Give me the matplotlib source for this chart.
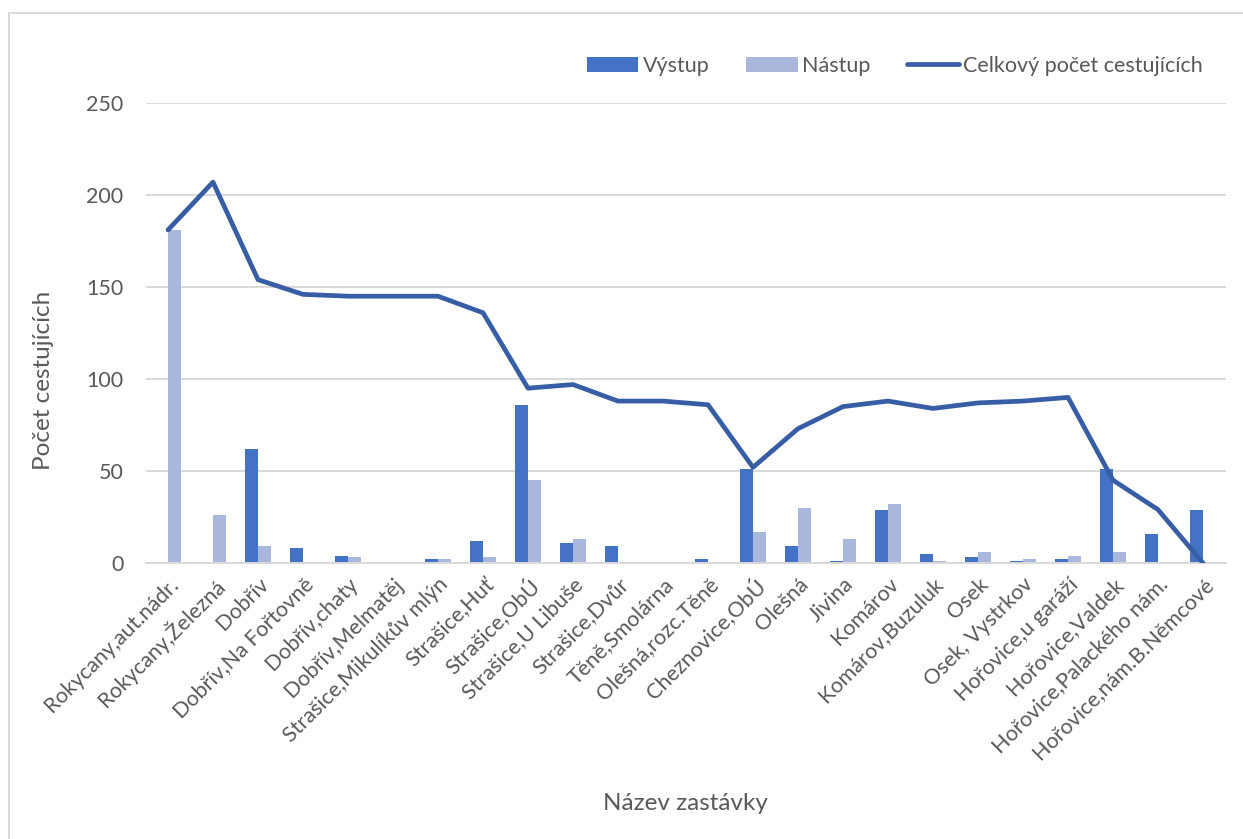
import numpy as np
import matplotlib
matplotlib.use("Agg")
import matplotlib.pyplot as plt
from matplotlib.patches import Rectangle

plt.rcParams['font.family'] = ['Lato', 'DejaVu Sans']

stops = [
    "Rokycany,aut.nádr.", "Rokycany,Železná", "Dobřív", "Dobřív,Na Fořtovně",
    "Dobřív,chaty", "Dobřív,Melmatěj", "Strašice,Mikulíkův mlýn", "Strašice,Huť",
    "Strašice,ObÚ", "Strašice,U Libuše", "Strašice,Dvůr", "Těně,Smolárna",
    "Olešná,rozc.Těně", "Cheznovice,ObÚ", "Olešná", "Jivina", "Komárov",
    "Komárov,Buzuluk", "Osek", "Osek, Vystrkov", "Hořovice,u garáží",
    "Hořovice,Valdek", "Hořovice,Palackého nám.", "Hořovice,nám.B.Němcové",
]
vystup = [0, 0, 62, 8, 4, 0, 2, 12, 86, 11, 9, 0, 2, 51, 9, 1, 29, 5, 3, 1, 2, 51, 16, 29]
nastup = [181, 26, 9, 0, 3, 0, 2, 3, 45, 13, 0, 0, 0, 17, 30, 13, 32, 1, 6, 2, 4, 6, 0, 0]
celkem = [181, 207, 154, 146, 145, 145, 145, 136, 95, 97, 88, 88, 86, 52, 73, 85, 88, 84,
          87, 88, 90, 45, 29, 0]
y_ticks = [0, 50, 100, 150, 200, 250]

C_VYSTUP = "#4472C4"
C_NASTUP = "#A9B7DC"
C_LINE = "#375EA4"
C_GRID = "#D9D9D9"
C_TEXT = "#595959"

W, H = 1243, 839
fig = plt.figure(figsize=(W / 100, H / 100), dpi=100)
ax = fig.add_axes([145.5 / W, 1 - 563 / H, 1080 / W, 460 / H])

x = np.arange(len(stops))
bw = 0.29
b1 = ax.bar(x - bw / 2, vystup, bw, color=C_VYSTUP, label="Výstup", zorder=2)
b2 = ax.bar(x + bw / 2, nastup, bw, color=C_NASTUP, label="Nástup", zorder=2)
ln, = ax.plot(x, celkem, color=C_LINE, lw=3.4, solid_capstyle='round',
              solid_joinstyle='round', label="Celkový počet cestujících", zorder=3)

ax.set_xlim(-0.5, len(stops) - 0.5)
ax.set_ylim(0, 250)
ax.set_yticks(y_ticks)
ax.yaxis.grid(True, color=C_GRID, lw=1.4, zorder=0)
ax.set_axisbelow(True)
for s in ["top", "right", "left"]:
    ax.spines[s].set_visible(False)
ax.spines["bottom"].set_color(C_GRID)
ax.spines["bottom"].set_linewidth(1.4)
ax.tick_params(axis='both', length=0, labelsize=15.5, colors=C_TEXT)
ax.tick_params(axis='y', pad=16)
ax.set_xticks(x)
ax.set_xticklabels(stops, rotation=45, ha='right', rotation_mode='anchor')
ax.tick_params(axis='x', pad=8)

fig.text(44 / W, 1 - 380 / H, "Počet cestujících", rotation=90, ha='center', va='center',
         fontsize=17.5, color=C_TEXT)
fig.text(685 / W, 1 - 803 / H, "Název zastávky", ha='center', va='center',
         fontsize=17.5, color=C_TEXT)

leg = fig.legend(handles=[b1, b2, ln], loc='center right',
                 bbox_to_anchor=(1222 / W, 1 - 66 / H), ncol=3,
                 frameon=False, fontsize=15.5, handlelength=2.4, handleheight=0.75,
                 handletextpad=0.2, columnspacing=1.7)
for t in leg.get_texts():
    t.set_color(C_TEXT)

fig.add_artist(Rectangle((8.5 / W, -0.05), 1.1, 1 - 13 / H + 0.05, transform=fig.transFigure,
                         fill=False, edgecolor=C_GRID, lw=1.4))

fig.savefig("out.png", dpi=100, facecolor="white")
